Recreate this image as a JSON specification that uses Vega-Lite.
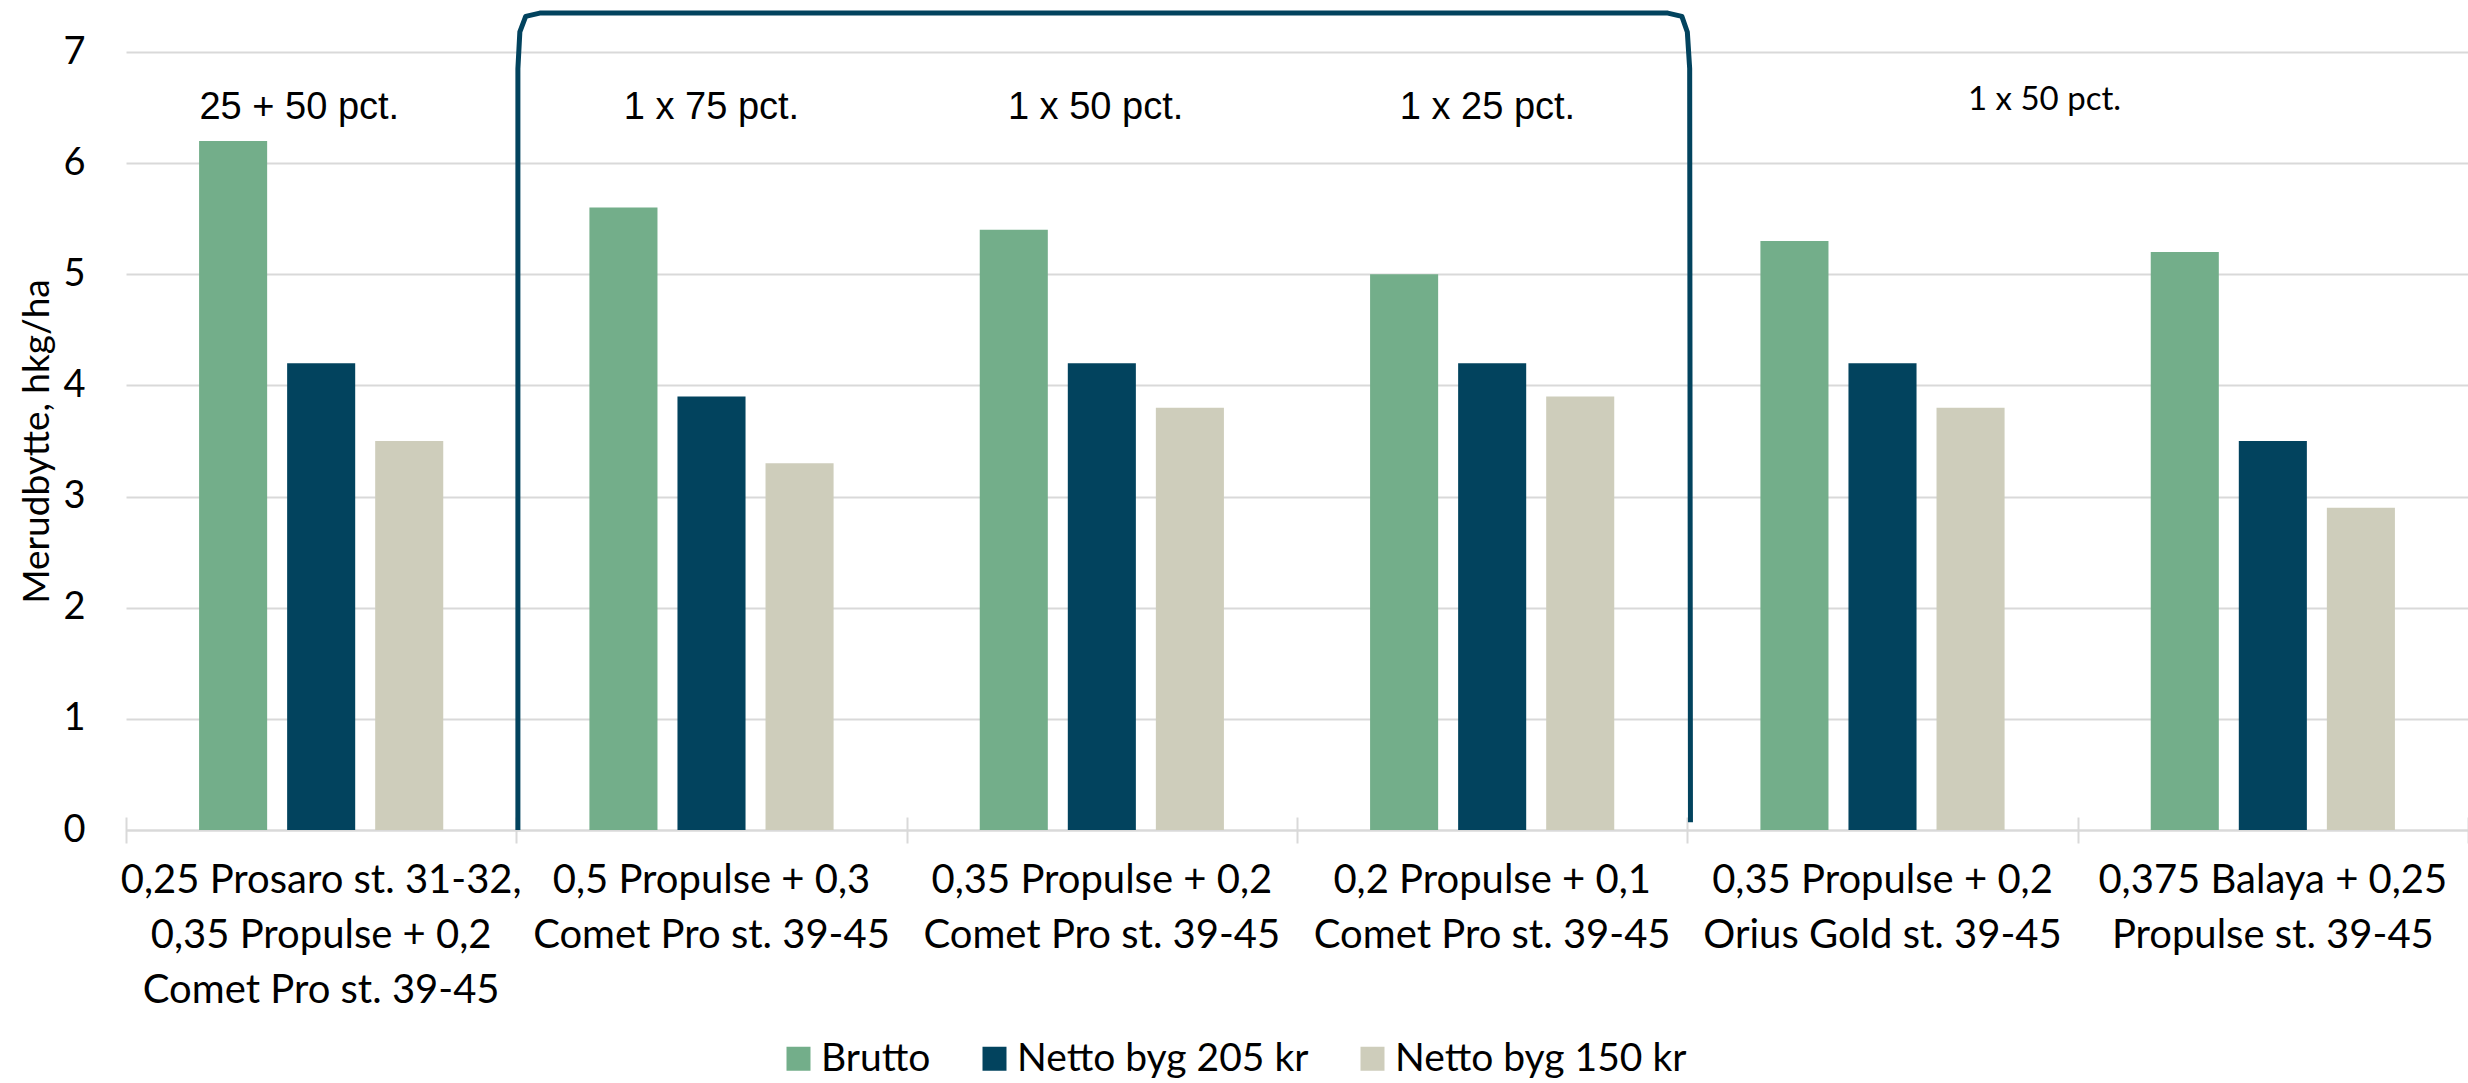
{
  "$schema": "https://vega.github.io/schema/vega-lite/v6.json",
  "width": 2342,
  "height": 778,
  "autosize": {"type": "none"},
  "padding": {"left": 126, "top": 52, "right": 0, "bottom": 253},
  "background": "white",
  "config": {
    "view": {"stroke": null},
    "font": "Lato",
    "axisY": {"grid": true, "gridColor": "#D9D9D9", "gridWidth": 2, "domain": false, "ticks": false, "labelFontSize": 38, "labelPadding": 41, "titleFontSize": 37, "titleFontWeight": "normal", "titlePadding": 6, "labelColor": "#000000", "titleColor": "#000000", "labelFont": "Lato", "titleFont": "Lato", "format": "d"}
  },
  "layer": [
    {
      "data": {"values": [
        {"treatment": "0,25 Prosaro st. 31-32,|0,35 Propulse + 0,2|Comet Pro st. 39-45", "series": "Brutto", "value": 6.2},
        {"treatment": "0,25 Prosaro st. 31-32,|0,35 Propulse + 0,2|Comet Pro st. 39-45", "series": "Netto byg 205 kr", "value": 4.2},
        {"treatment": "0,25 Prosaro st. 31-32,|0,35 Propulse + 0,2|Comet Pro st. 39-45", "series": "Netto byg 150 kr", "value": 3.5},
        {"treatment": "0,5 Propulse + 0,3|Comet Pro st. 39-45", "series": "Brutto", "value": 5.6},
        {"treatment": "0,5 Propulse + 0,3|Comet Pro st. 39-45", "series": "Netto byg 205 kr", "value": 3.9},
        {"treatment": "0,5 Propulse + 0,3|Comet Pro st. 39-45", "series": "Netto byg 150 kr", "value": 3.3},
        {"treatment": "0,35 Propulse + 0,2|Comet Pro st. 39-45", "series": "Brutto", "value": 5.4},
        {"treatment": "0,35 Propulse + 0,2|Comet Pro st. 39-45", "series": "Netto byg 205 kr", "value": 4.2},
        {"treatment": "0,35 Propulse + 0,2|Comet Pro st. 39-45", "series": "Netto byg 150 kr", "value": 3.8},
        {"treatment": "0,2 Propulse + 0,1|Comet Pro st. 39-45", "series": "Brutto", "value": 5.0},
        {"treatment": "0,2 Propulse + 0,1|Comet Pro st. 39-45", "series": "Netto byg 205 kr", "value": 4.2},
        {"treatment": "0,2 Propulse + 0,1|Comet Pro st. 39-45", "series": "Netto byg 150 kr", "value": 3.9},
        {"treatment": "0,35 Propulse + 0,2|Orius Gold st. 39-45", "series": "Brutto", "value": 5.3},
        {"treatment": "0,35 Propulse + 0,2|Orius Gold st. 39-45", "series": "Netto byg 205 kr", "value": 4.2},
        {"treatment": "0,35 Propulse + 0,2|Orius Gold st. 39-45", "series": "Netto byg 150 kr", "value": 3.8},
        {"treatment": "0,375 Balaya + 0,25|Propulse st. 39-45", "series": "Brutto", "value": 5.2},
        {"treatment": "0,375 Balaya + 0,25|Propulse st. 39-45", "series": "Netto byg 205 kr", "value": 3.5},
        {"treatment": "0,375 Balaya + 0,25|Propulse st. 39-45", "series": "Netto byg 150 kr", "value": 2.9}
      ]},
      "mark": {"type": "bar"},
      "encoding": {
        "x": {
          "field": "treatment", "type": "nominal", "sort": null,
          "scale": {"paddingInner": 0, "paddingOuter": 0},
          "axis": {"title": null, "labelExpr": "split(datum.label, '|')", "labelAngle": 0, "labelFont": "Lato", "labelFontSize": 40, "labelLineHeight": 55, "labelColor": "#000000", "labelPadding": 30, "ticks": false, "domainColor": "#D9D9D9", "domainWidth": 2, "labelLimit": 0, "orient": "bottom"}
        },
        "xOffset": {
          "field": "series", "type": "nominal",
          "sort": ["Brutto", "Netto byg 205 kr", "Netto byg 150 kr"],
          "scale": {"paddingInner": 0.227, "paddingOuter": 0.83}
        },
        "y": {
          "field": "value", "type": "quantitative",
          "title": "Merudbytte, hkg/ha",
          "scale": {"domain": [0, 7], "nice": false},
          "axis": {"values": [0, 1, 2, 3, 4, 5, 6, 7]}
        },
        "color": {
          "field": "series", "type": "nominal",
          "sort": ["Brutto", "Netto byg 205 kr", "Netto byg 150 kr"],
          "scale": {"domain": ["Brutto", "Netto byg 205 kr", "Netto byg 150 kr"], "range": ["#73AE8A", "#02435E", "#CECDBB"]},
          "legend": {"orient": "none", "legendX": 653, "legendY": 987, "direction": "horizontal", "title": null, "symbolType": "square", "symbolSize": 576, "symbolStrokeWidth": 0, "labelFont": "Lato", "labelFontSize": 39, "labelOffset": 3, "columnPadding": 44, "labelColor": "#000000", "labelLimit": 0}
        }
      }
    },
    {
      "data": {"values": [
        {"qx": 1.004, "y": 0, "o": 1},
        {"qx": 1.004, "y": 6.85, "o": 2},
        {"qx": 1.009, "y": 7.18, "o": 3},
        {"qx": 1.024, "y": 7.32, "o": 4},
        {"qx": 1.06, "y": 7.35, "o": 5},
        {"qx": 3.95, "y": 7.35, "o": 6},
        {"qx": 3.986, "y": 7.32, "o": 7},
        {"qx": 4.0, "y": 7.18, "o": 8},
        {"qx": 4.006, "y": 6.85, "o": 9},
        {"qx": 4.008, "y": 0.07, "o": 10}
      ]},
      "mark": {"type": "line", "color": "#02435E", "strokeWidth": 5, "strokeJoin": "round", "clip": false},
      "encoding": {
        "x": {
          "field": "qx", "type": "quantitative",
          "scale": {"domain": [0, 6], "nice": false, "zero": false},
          "axis": {"orient": "bottom", "values": [0, 1, 2, 3, 4, 5, 6], "labels": false, "ticks": true, "tickSize": 26, "offset": -13, "tickColor": "#D9D9D9", "tickWidth": 2, "domain": false, "grid": false, "title": null}
        },
        "y": {"field": "y", "type": "quantitative", "title": "Merudbytte, hkg/ha", "scale": {"domain": [0, 7], "nice": false}},
        "order": {"field": "o", "type": "quantitative"}
      }
    },
    {
      "data": {"values": [
        {"qx": 0.444, "y": 6.5, "label": "25 + 50 pct."},
        {"qx": 1.5, "y": 6.5, "label": "1 x 75 pct."},
        {"qx": 2.484, "y": 6.5, "label": "1 x 50 pct."},
        {"qx": 3.488, "y": 6.5, "label": "1 x 25 pct."}
      ]},
      "mark": {"type": "text", "font": "Liberation Sans", "fontSize": 38, "align": "center", "baseline": "middle", "color": "#000000"},
      "encoding": {
        "x": {"field": "qx", "type": "quantitative", "scale": {"domain": [0, 6], "nice": false, "zero": false}, "axis": null},
        "y": {"field": "y", "type": "quantitative", "title": "Merudbytte, hkg/ha", "scale": {"domain": [0, 7], "nice": false}},
        "text": {"field": "label"}
      }
    },
    {
      "data": {"values": [
        {"qx": 4.915, "y": 6.57, "label": "1 x 50 pct."}
      ]},
      "mark": {"type": "text", "font": "Lato", "fontSize": 33, "align": "center", "baseline": "middle", "color": "#000000"},
      "encoding": {
        "x": {"field": "qx", "type": "quantitative", "scale": {"domain": [0, 6], "nice": false, "zero": false}, "axis": null},
        "y": {"field": "y", "type": "quantitative", "title": "Merudbytte, hkg/ha", "scale": {"domain": [0, 7], "nice": false}},
        "text": {"field": "label"}
      }
    }
  ],
  "resolve": {"scale": {"x": "independent"}, "axis": {"x": "independent"}}
}
